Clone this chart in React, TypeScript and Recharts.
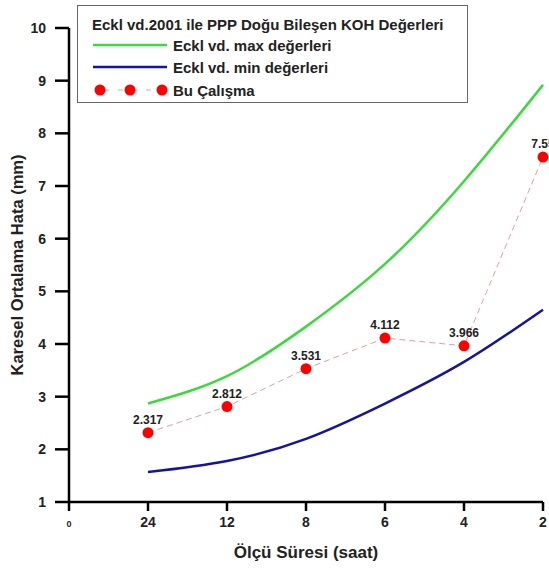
import { LineChart, Line, XAxis, YAxis, LabelList } from 'recharts';

const xIndex = [1, 2, 3, 4, 5, 6];
const xTickLabels = ['0', '24', '12', '8', '6', '4', '2'];
const maxValues = [2.87, 3.39, 4.33, 5.52, 7.09, 8.92];
const minValues = [1.57, 1.78, 2.2, 2.87, 3.66, 4.65];
const buCalisma = [2.317, 2.812, 3.531, 4.112, 3.966, 7.55];
const yTicks = [1, 2, 3, 4, 5, 6, 7, 8, 9, 10];

const data = xIndex.map((x, i) => ({
  x,
  max: maxValues[i],
  min: minValues[i],
  bu: buCalisma[i],
}));

const FONT = 'Liberation Sans, Arial, sans-serif';

const XTick = (props: any) => {
  const { x, y, payload } = props;
  const label = xTickLabels[payload.value];
  const small = payload.value === 0;
  return (
    <text
      x={x}
      y={y + 14}
      textAnchor="middle"
      fontFamily={FONT}
      fontWeight="bold"
      fontSize={small ? 9 : 14}
      fill="#222"
    >
      {label}
    </text>
  );
};

function LegendBox() {
  return (
    <div
      style={{
        position: 'absolute',
        left: 77,
        top: 5,
        width: 391,
        height: 98,
        boxSizing: 'border-box',
        border: '1px solid #666',
        background: '#fff',
        fontFamily: FONT,
        fontWeight: 'bold',
        color: '#222',
        fontSize: 15,
        lineHeight: '17px',
      }}
    >
      <div style={{ position: 'absolute', left: 14, top: 10 }}>
        Eckl vd.2001 ile PPP Doğu Bileşen KOH Değerleri
      </div>
      <svg width={100} height={98} style={{ position: 'absolute', left: 0, top: 0 }}>
        <line x1={15} x2={89} y1={39} y2={39} stroke="#3cd93c" strokeWidth={2.5} />
        <line x1={15} x2={89} y1={61} y2={61} stroke="#1414a0" strokeWidth={2.5} />
        <line x1={22} x2={84} y1={84} y2={84} stroke="#e0a0a0" strokeWidth={1} strokeDasharray="5 9" strokeDashoffset={-4} />
        <circle cx={22} cy={84} r={5.5} fill="#f00" />
        <circle cx={52} cy={84} r={5.5} fill="#f00" />
        <circle cx={84} cy={84} r={5.5} fill="#f00" />
      </svg>
      <div style={{ position: 'absolute', left: 95, top: 31 }}>Eckl vd. max değerleri</div>
      <div style={{ position: 'absolute', left: 95, top: 53 }}>Eckl vd. min değerleri</div>
      <div style={{ position: 'absolute', left: 95, top: 76 }}>Bu Çalışma</div>
    </div>
  );
}

export default function App() {
  return (
    <div style={{ position: 'absolute', left: 0, top: 0, width: 549, height: 574, background: '#fff' }}>
      <LineChart
        width={549}
        height={574}
        data={data}
        margin={{ top: 28, right: 6, left: 0, bottom: 0 }}
      >
        <XAxis
          dataKey="x"
          type="number"
          domain={[0, 6]}
          ticks={[0, 1, 2, 3, 4, 5, 6]}
          interval={0}
          height={72}
          stroke="#000"
          strokeWidth={2.5}
          tickSize={9}
          tick={<XTick />}
          label={{
            value: 'Ölçü Süresi (saat)',
            position: 'insideBottom',
            offset: 16,
            style: { fontFamily: FONT, fontWeight: 'bold', fontSize: 17, fill: '#222' },
          }}
        />
        <YAxis
          type="number"
          domain={[1, 10]}
          ticks={yTicks}
          interval={0}
          width={69}
          stroke="#000"
          strokeWidth={2.5}
          tickSize={14}
          tickMargin={9}
          tick={{ fontFamily: FONT, fontWeight: 'bold', fontSize: 14, fill: '#222' }}
          label={{
            value: 'Karesel Ortalama Hata (mm)',
            angle: -90,
            position: 'insideLeft',
            offset: 17,
            style: { fontFamily: FONT, fontWeight: 'bold', fontSize: 16.5, fill: '#222', textAnchor: 'middle' },
          }}
        />
        <Line
          dataKey="max"
          type="natural"
          stroke="#3cd93c"
          strokeWidth={2.5}
          dot={false}
          isAnimationActive={false}
        />
        <Line
          dataKey="min"
          type="natural"
          stroke="#1414a0"
          strokeWidth={2.5}
          dot={false}
          isAnimationActive={false}
        />
        <Line
          dataKey="bu"
          type="linear"
          stroke="#e0a0a0"
          strokeWidth={1}
          strokeDasharray="6 4"
          dot={{ r: 5.5, fill: '#f00', stroke: 'none' }}
          isAnimationActive={false}
        >
          <LabelList
            dataKey="bu"
            position="top"
            offset={9}
            style={{ fontFamily: FONT, fontWeight: 'bold', fontSize: 12, fill: '#222' }}
          />
        </Line>
      </LineChart>
      <LegendBox />
    </div>
  );
}
